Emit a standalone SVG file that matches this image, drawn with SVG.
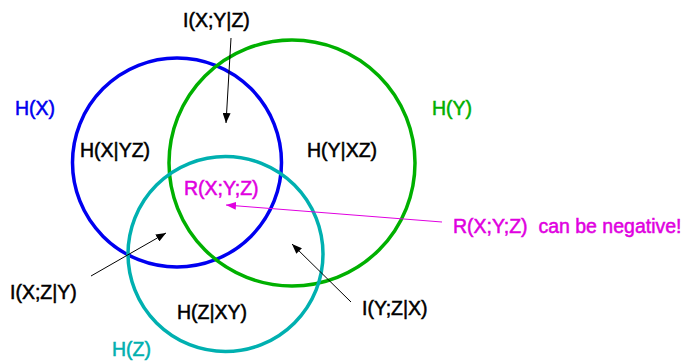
<svg xmlns="http://www.w3.org/2000/svg" width="695" height="362" viewBox="0 0 695 362">
<defs>
<style>
text{font-family:"Liberation Sans",Arial,sans-serif;font-size:19.5px;stroke-width:0.5px}
.k{fill:#000;stroke:#000}
.c{fill:none;stroke-width:3.5}
.a{stroke:#000;stroke-width:1;fill:none}
.m{stroke:#e000e0;stroke-width:1;fill:none}
</style>
<marker id="ah" viewBox="0 0 10 8" refX="10" refY="4" markerWidth="10" markerHeight="8" markerUnits="userSpaceOnUse" orient="auto"><path d="M0,0 L10,4 L0,8 z" fill="#000"/></marker>
<marker id="am" viewBox="0 0 10 8" refX="10" refY="4" markerWidth="10" markerHeight="8" markerUnits="userSpaceOnUse" orient="auto"><path d="M0,0 L10,4 L0,8 z" fill="#e000e0"/></marker>
</defs>
<rect width="695" height="362" fill="#fff"/>
<g id="circleX"><circle class="c" cx="177" cy="162.5" r="104.5" stroke="#0000f0"/><text x="15" y="115" fill="#0000f0" stroke="#0000f0">H(X)</text></g>
<g id="circleY"><circle class="c" cx="292" cy="163" r="123" stroke="#00b000"/><text x="432" y="115" fill="#00b000" stroke="#00b000">H(Y)</text></g>
<g id="circleZ"><circle class="c" cx="225.5" cy="254" r="97.5" stroke="#00b0b0"/><text x="112" y="356" fill="#00b0b0" stroke="#00b0b0">H(Z)</text></g>
<g id="hxyz"><text class="k" x="80" y="157">H(X|YZ)</text></g>
<g id="hyxz"><text class="k" x="307" y="157">H(Y|XZ)</text></g>
<g id="hzxy"><text class="k" x="177" y="319">H(Z|XY)</text></g>
<g id="ixyz"><text class="k" x="183" y="27">I(X;Y|Z)</text></g>
<g id="ixzy"><text class="k" x="10" y="299">I(X;Z|Y)</text></g>
<g id="iyzx"><text class="k" x="362" y="315">I(Y;Z|X)</text></g>
<g id="rxyz"><text x="184" y="195" fill="#e000e0" stroke="#e000e0">R(X;Y;Z)</text></g>
<g id="note"><text x="453" y="233" fill="#e000e0" stroke="#e000e0" xml:space="preserve">R(X;Y;Z)  can be negative!</text></g>
<g id="connectors">
<line class="a" x1="231" y1="38" x2="226" y2="123" marker-end="url(#ah)"/>
<line class="a" x1="91" y1="276" x2="166" y2="233" marker-end="url(#ah)"/>
<line class="a" x1="351" y1="302" x2="292" y2="244" marker-end="url(#ah)"/>
<line class="m" x1="442" y1="222" x2="226" y2="205" marker-end="url(#am)"/>
</g>
</svg>
